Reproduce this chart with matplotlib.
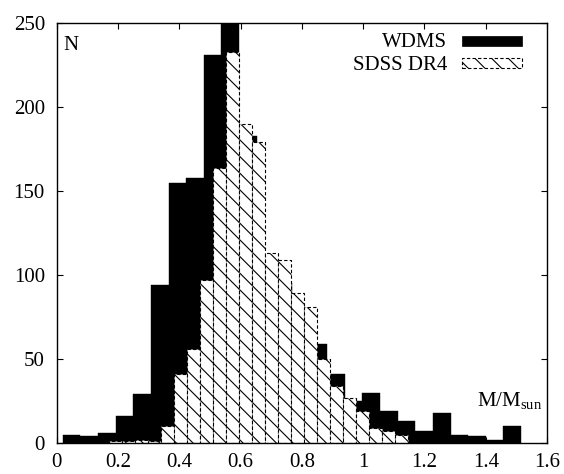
import matplotlib
matplotlib.use("Agg")
import matplotlib.pyplot as plt
from matplotlib.patches import Rectangle

# WDMS histogram (black), bin left edges and counts
wdms_left = [0.02, 0.0775, 0.135, 0.1925, 0.25, 0.3075, 0.365, 0.4225, 0.48,
             0.5375, 0.595, 0.6525, 0.71, 0.7675, 0.825, 0.8825, 0.94, 0.9975,
             1.055, 1.1125, 1.17, 1.2275, 1.285, 1.3425, 1.40, 1.4575]
wdms_count = [5, 4, 6, 16, 29, 94, 155, 158, 231,
              262, 183, 105, 95, 72, 59, 41, 25, 30,
              19, 13, 7, 18, 5, 4, 2, 10]
wdms_width = 0.0575

# SDSS DR4 histogram (hatched)
sdss_left = [0.17, 0.2125, 0.255, 0.2975, 0.34, 0.3825, 0.425, 0.4675, 0.51,
             0.5525, 0.595, 0.6375, 0.68, 0.7225, 0.765, 0.8075, 0.85, 0.8925,
             0.935, 0.9775, 1.02, 1.0625, 1.105]
sdss_count = [1, 1, 2, 1, 10, 41, 56, 97, 164,
              233, 190, 179, 113, 109, 89, 81, 50, 34,
              27, 19, 9, 7, 5]
sdss_width = 0.0425

xticks = [0, 0.2, 0.4, 0.6, 0.8, 1.0, 1.2, 1.4, 1.6]
xticklabels = ["0", "0.2", "0.4", "0.6", "0.8", "1", "1.2", "1.4", "1.6"]
yticks = [0, 50, 100, 150, 200, 250]

FS = 15

plt.rcParams["font.family"] = ["Liberation Serif", "DejaVu Serif"]
plt.rcParams["mathtext.fontset"] = "custom"
plt.rcParams["mathtext.rm"] = "Liberation Serif"
plt.rcParams["hatch.linewidth"] = 0.8

fig = plt.figure(figsize=(5.64, 4.74), dpi=100)
ax = fig.add_axes([0.1005, 0.0654, 0.8695, 0.886])

ax.bar(wdms_left, wdms_count, width=wdms_width, align="edge",
       color="black", edgecolor="black", linewidth=0.3, zorder=2)
ax.bar(sdss_left, sdss_count, width=sdss_width, align="edge",
       facecolor="white", edgecolor="black", hatch="\\\\",
       linewidth=0.8, linestyle=(0, (3, 2)), zorder=3)

ax.set_xlim(0, 1.6)
ax.set_ylim(0, 250)
ax.set_xticks(xticks)
ax.set_xticklabels(xticklabels)
ax.set_yticks(yticks)
ax.tick_params(direction="in", top=True, right=True, length=4.3, width=0.8,
               labelsize=FS)
ax.tick_params(axis="x", pad=7)
ax.tick_params(axis="y", pad=8.5)
for s in ax.spines.values():
    s.set_linewidth(1.0)
    s.set_zorder(5)

# labels inside the frame
ax.text(0.013, 0.936, "N", transform=ax.transAxes, fontsize=FS,
        ha="left", va="baseline")
ax.text(1.585, 22, r"M/M$_\mathrm{sun}$", fontsize=FS, ha="right",
        va="baseline")

# legend drawn gnuplot-style
ax.text(0.796, 0.944, "WDMS", transform=ax.transAxes, fontsize=FS,
        ha="right", va="baseline")
ax.text(0.796, 0.889, "SDSS DR4", transform=ax.transAxes, fontsize=FS,
        ha="right", va="baseline")
ax.add_patch(Rectangle((0.827, 0.946), 0.122, 0.024, transform=ax.transAxes,
                       facecolor="black", edgecolor="black", linewidth=0.5,
                       clip_on=False, zorder=4))
ax.add_patch(Rectangle((0.827, 0.894), 0.122, 0.022, transform=ax.transAxes,
                       facecolor="white", edgecolor="black", hatch="\\\\",
                       linewidth=0.8, linestyle=(0, (3, 2)),
                       clip_on=False, zorder=4))

fig.savefig("out.png", dpi=100)
